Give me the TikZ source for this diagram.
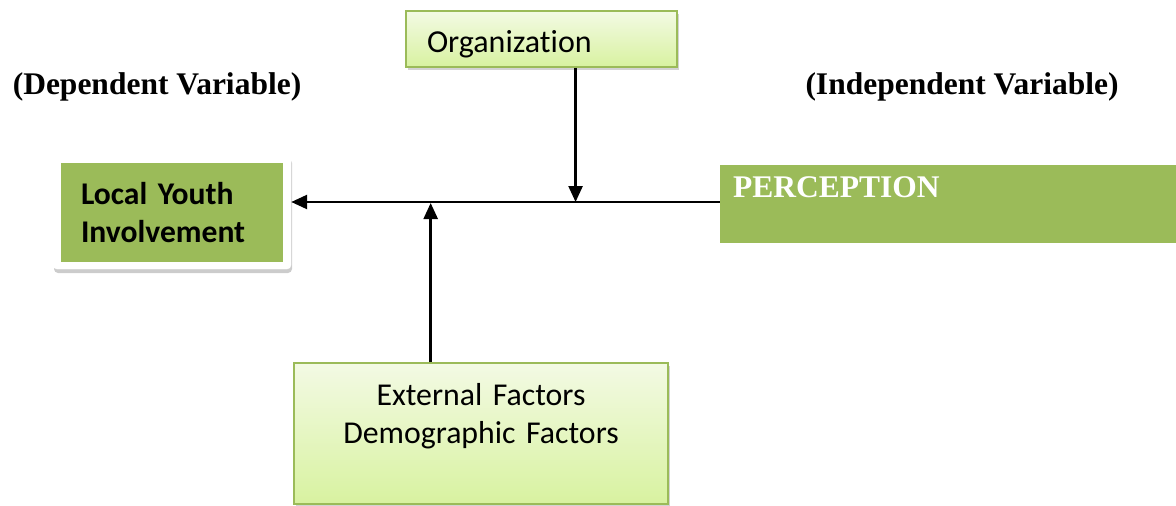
\documentclass[tikz,border=0pt]{standalone}
\usepackage{fontspec}
\setmainfont{Liberation Serif}
\newfontfamily\carlito[Ligatures=NoCommon]{Carlito}
\usetikzlibrary{arrows.meta,shadows,calc}
\definecolor{olive}{HTML}{9BBB59}
\definecolor{lgtop}{HTML}{F3FAE4}
\definecolor{lgbot}{HTML}{D8F2A0}
\tikzset{
  lightbox/.style={draw=olive, line width=1.5pt, top color=lgtop, bottom color=lgbot,
    drop shadow={shadow xshift=2pt, shadow yshift=-3pt, opacity=0.35}, inner sep=0pt},
  arr/.style={line width=2.5pt, -{Triangle[length=16pt,width=14pt]}},
  varlabel/.style={font=\bfseries\fontsize{31.5}{36}\selectfont, inner sep=0pt}
}
\begin{document}
\begin{tikzpicture}[x=1pt,y=-1pt]
\useasboundingbox (0,0) rectangle (1176,506);
% Local Youth Involvement
\node[draw=white, fill=white, rounded corners=4pt, minimum width=238pt, minimum height=114pt,
  drop shadow={shadow xshift=1pt, shadow yshift=-4pt, opacity=0.4}] (frame) at (172,212) {};
\node[fill=olive, minimum width=222pt, minimum height=99pt, text width=182pt, inner xsep=20pt,
  align=left, font=\carlito\bfseries\fontsize{31.6}{38.5}\selectfont] (local) at (172,212.5) {Local Youth\\Involvement};
% Organization
\node[lightbox, minimum width=271pt, text width=229pt, inner xsep=21pt, inner ysep=0pt,
  text height=41pt, text depth=15pt, align=left,
  font=\carlito\fontsize{32}{38}\selectfont] (org) at (541.5,39) {Organization};
% External
\node[lightbox, minimum width=374pt, minimum height=141pt, text width=360pt, align=center,
  font=\carlito\fontsize{31.8}{38.5}\selectfont] (ext) at (481,433.5) {External Factors\\Demographic Factors\\[-10pt]\strut};
% Perception
\node[fill=olive, minimum width=456pt, text width=430pt, inner xsep=13pt, inner ysep=0pt,
  text height=32pt, text depth=46pt, align=left, text=white,
  font=\bfseries\fontsize{31.5}{36}\selectfont] (perc) at (948,204) {PERCEPTION};
% labels
\node[varlabel] (dep) at (157,87) {(Dependent Variable)};
\node[varlabel] (indep) at (962,87) {(Independent Variable)};
% connectors
\coordinate (pin) at ($(perc.west)+(0,-2)$);
\coordinate (lin) at (pin -| frame.east);
\draw[arr] (pin) -- (lin);
\coordinate (orgout) at ($(org.south west)!0.625!(org.south east)$);
\draw[arr] (orgout) -- (orgout |- pin);
\coordinate (extout) at ($(ext.north west)!0.366!(ext.north east)$);
\draw[arr] (extout) -- ($(extout |- pin)+(0,1)$);
\end{tikzpicture}
\end{document}
